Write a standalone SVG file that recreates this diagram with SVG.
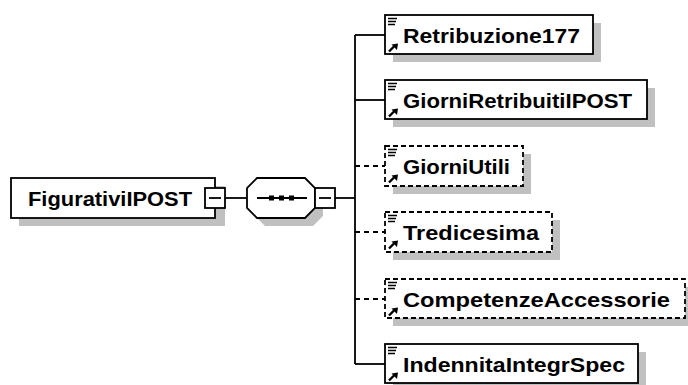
<svg xmlns="http://www.w3.org/2000/svg" width="688" height="385" viewBox="0 0 688 385">
<style>
.shadow{fill:#c0c0c0;stroke:none}
.box{fill:#fff;stroke:#000;stroke-width:1.8}
.opt{fill:#fff;stroke:#000;stroke-width:1.8;stroke-dasharray:5,3}
.line{stroke:#000;stroke-width:1.8;fill:none}
.dline{stroke:#000;stroke-width:1.8;fill:none;stroke-dasharray:5,4}
.lbl{font-family:"Liberation Sans",Arial,sans-serif;font-weight:bold;font-size:21px;fill:#000}
.ic{stroke:#000;stroke-width:1.5;fill:none}
</style>
<defs>
<g id="icons">
<path class="ic" d="M388,3.5h9M388,6.5h8M388,9.5h7"/>
<path d="M389,36.5 L394,31.5" stroke="#000" stroke-width="2.4" fill="none"/>
<path d="M398,28.5 L391.5,29.5 L397,35 Z" fill="#000"/>
</g>
</defs>
<g id="connectors">
<line class="line" x1="225" y1="198" x2="247" y2="198"/>
<line class="line" x1="335" y1="198" x2="355" y2="198"/>
<line class="line" x1="355" y1="35" x2="355" y2="364"/>
<line class="line" x1="355" y1="35" x2="385" y2="35"/>
<line class="line" x1="355" y1="100" x2="385" y2="100"/>
<line class="dline" x1="355" y1="166" x2="385" y2="166"/>
<line class="dline" x1="355" y1="232" x2="385" y2="232"/>
<line class="dline" x1="355" y1="299" x2="385" y2="299"/>
<line class="line" x1="355" y1="364" x2="385" y2="364"/>
</g>
<g id="FigurativiIPOST">
<rect class="shadow" x="19" y="186" width="206" height="40"/>
<rect class="box" x="11" y="178" width="204" height="40"/>
<text class="lbl" x="28" y="205.5" textLength="164" lengthAdjust="spacingAndGlyphs">FigurativiIPOST</text>
<rect class="box" x="205" y="188" width="20" height="20"/>
<line class="line" x1="209" y1="198" x2="221" y2="198"/>
</g>
<g id="sequence">
<polygon class="shadow" points="265,186 313,186 323,196 323,216 313,226 265,226 255,216 255,196"/>
<polygon class="box" points="257,178 305,178 315,188 315,208 305,218 257,218 247,208 247,188"/>
<line class="line" x1="257" y1="198" x2="307" y2="198"/>
<rect x="269" y="195.5" width="5" height="5" fill="#000"/>
<rect x="279" y="195.5" width="5" height="5" fill="#000"/>
<rect x="289" y="195.5" width="5" height="5" fill="#000"/>
<rect class="box" x="315" y="188" width="20" height="20"/>
<line class="line" x1="319" y1="198" x2="331" y2="198"/>
</g>
<g id="Retribuzione177">
<rect class="shadow" x="393" y="23" width="208" height="39"/>
<rect class="box" x="385" y="15" width="208" height="39"/>
<use href="#icons" transform="translate(0,15)"/>
<text class="lbl" x="403" y="42.5" textLength="177" lengthAdjust="spacingAndGlyphs">Retribuzione177</text>
</g>
<g id="GiorniRetribuitiIPOST">
<rect class="shadow" x="393" y="88" width="262" height="39"/>
<rect class="box" x="385" y="80" width="262" height="39"/>
<use href="#icons" transform="translate(0,80)"/>
<text class="lbl" x="403" y="107.5" textLength="229" lengthAdjust="spacingAndGlyphs">GiorniRetribuitiIPOST</text>
</g>
<g id="GiorniUtili">
<rect class="shadow" x="393" y="154" width="138" height="40"/>
<rect class="opt" x="385" y="146" width="138" height="40"/>
<use href="#icons" transform="translate(0,146)"/>
<text class="lbl" x="403" y="173.5" textLength="107" lengthAdjust="spacingAndGlyphs">GiorniUtili</text>
</g>
<g id="Tredicesima">
<rect class="shadow" x="393" y="220" width="167" height="40"/>
<rect class="opt" x="385" y="212" width="167" height="40"/>
<use href="#icons" transform="translate(0,212)"/>
<text class="lbl" x="403" y="239.5" textLength="136" lengthAdjust="spacingAndGlyphs">Tredicesima</text>
</g>
<g id="CompetenzeAccessorie">
<rect class="shadow" x="393" y="287" width="295" height="39"/>
<rect class="opt" x="385" y="279" width="300" height="39"/>
<use href="#icons" transform="translate(0,279)"/>
<text class="lbl" x="403" y="306.5" textLength="267" lengthAdjust="spacingAndGlyphs">CompetenzeAccessorie</text>
</g>
<g id="IndennitaIntegrSpec">
<rect class="shadow" x="393" y="352" width="253" height="39"/>
<rect class="box" x="385" y="344" width="253" height="39"/>
<use href="#icons" transform="translate(0,344)"/>
<text class="lbl" x="403" y="371.5" textLength="222" lengthAdjust="spacingAndGlyphs">IndennitaIntegrSpec</text>
</g>
</svg>
